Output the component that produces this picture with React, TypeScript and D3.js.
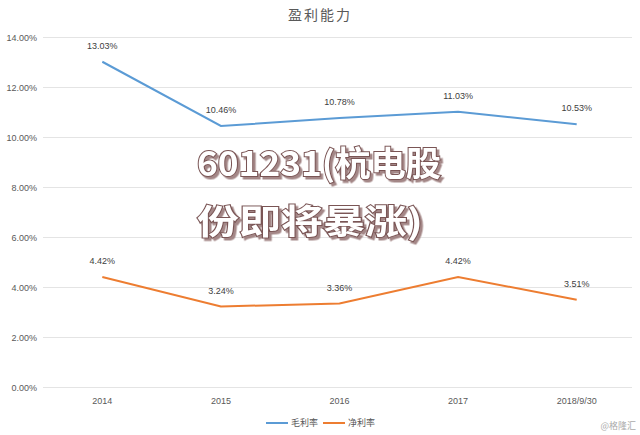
import React, { useEffect, useRef } from 'react'
import * as d3 from 'd3'

const categories = ['2014', '2015', '2016', '2017', '2018/9/30']
const grossMargin = [13.03, 10.46, 10.78, 11.03, 10.53]
const netMargin = [4.42, 3.24, 3.36, 4.42, 3.51]
const yTicks = [0, 2, 4, 6, 8, 10, 12, 14]
const seriesNames = ['毛利率', '净利率']
const seriesColors = ['#5b9bd5', '#ed7d31']
const overlayLines = ['601231(杭电股', '份即将暴涨)']

const width = 640
const height = 435
const margin = { top: 37.5, right: 4, bottom: 47.5, left: 43 }

export default function App() {
  const ref = useRef<SVGSVGElement>(null)

  useEffect(() => {
    const svg = d3.select(ref.current)
    svg.selectAll('*').remove()

    const x = d3.scaleBand().domain(categories)
      .range([margin.left, width - margin.right]).padding(0)
    const y = d3.scaleLinear().domain([0, 14])
      .range([height - margin.bottom, margin.top])

    // 阴影滤镜
    const defs = svg.append('defs')
    const f = defs.append('filter').attr('id', 'shadow')
      .attr('x', '-10%').attr('y', '-20%').attr('width', '130%').attr('height', '150%')
    f.append('feDropShadow')
      .attr('dx', 2.5).attr('dy', 2.5).attr('stdDeviation', 0.6)
      .attr('flood-color', '#9a7a7a').attr('flood-opacity', 0.9)

    svg.append('rect').attr('width', width).attr('height', height).attr('fill', '#fff')

    // 标题
    svg.append('text')
      .attr('x', 320).attr('y', 20)
      .attr('text-anchor', 'middle')
      .attr('font-family', '"Noto Sans CJK SC", sans-serif')
      .attr('font-size', 14)
      .attr('fill', '#595959')
      .attr('letter-spacing', 2)
      .text('盈利能力')

    // 网格线和y轴刻度
    const grid = svg.append('g')
    yTicks.forEach(t => {
      grid.append('line')
        .attr('x1', margin.left).attr('x2', width - 8)
        .attr('y1', y(t)).attr('y2', y(t))
        .attr('stroke', '#e4e4e4').attr('stroke-width', 1)
      grid.append('text')
        .attr('x', 37).attr('y', y(t)).attr('dy', '0.35em')
        .attr('text-anchor', 'end')
        .attr('font-family', 'Arial, "Liberation Sans", sans-serif')
        .attr('font-size', 9)
        .attr('fill', '#595959')
        .text(t.toFixed(2) + '%')
    })

    // x轴标签
    categories.forEach(c => {
      svg.append('text')
        .attr('x', x(c)! + x.bandwidth() / 2).attr('y', 404)
        .attr('text-anchor', 'middle')
        .attr('font-family', 'Arial, "Liberation Sans", sans-serif')
        .attr('font-size', 9)
        .attr('fill', '#595959')
        .text(c)
    })

    const cx = (i: number) => x(categories[i])! + x.bandwidth() / 2
    const line = d3.line<number>().x((d, i) => cx(i)).y(d => y(d))

    ;[grossMargin, netMargin].forEach((s, k) => {
      svg.append('path')
        .datum(s)
        .attr('fill', 'none')
        .attr('stroke', seriesColors[k])
        .attr('stroke-width', 2)
        .attr('d', line)
      s.forEach((v, i) => {
        svg.append('text')
          .attr('x', cx(i)).attr('y', y(v) - 13)
          .attr('text-anchor', 'middle')
          .attr('font-family', 'Arial, "Liberation Sans", sans-serif')
          .attr('font-size', 9)
          .attr('fill', '#404040')
          .text(v.toFixed(2) + '%')
      })
    })

    // 图例
    const lg = svg.append('g')
    seriesNames.forEach((n, k) => {
      const lx = 266 + k * 57
      lg.append('line')
        .attr('x1', lx).attr('x2', lx + 22)
        .attr('y1', 423).attr('y2', 423)
        .attr('stroke', seriesColors[k]).attr('stroke-width', 2)
      lg.append('text')
        .attr('x', lx + 25).attr('y', 423).attr('dy', '0.35em')
        .attr('font-family', '"Noto Sans CJK SC", sans-serif')
        .attr('font-size', 9)
        .attr('fill', '#595959')
        .text(n)
    })

    // 水印
    svg.append('text')
      .attr('x', 636).attr('y', 429)
      .attr('text-anchor', 'end')
      .attr('font-family', '"Noto Sans CJK SC", sans-serif')
      .attr('font-size', 9)
      .attr('fill', '#aaa')
      .text('@格隆汇')

    // 覆盖文字
    overlayLines.forEach((t, i) => {
      svg.append('text')
        .attr('x', 197).attr('y', 176 + i * 58)
        .attr('font-family', '"Noto Sans CJK SC", sans-serif')
        .attr('font-weight', 700)
        .attr('font-size', 34)
        .attr('fill', '#fff')
        .attr('stroke', '#7a5555').attr('stroke-width', 2)
        .attr('paint-order', 'stroke')
        .attr('filter', 'url(#shadow)')
        .attr('textLength', i === 0 ? 244 : 226)
        .attr('lengthAdjust', 'spacingAndGlyphs')
        .text(t)
    })
  }, [])

  return (
    <svg ref={ref} width={width} height={height}
      style={{ position: 'absolute', left: 0, top: 0, display: 'block' }} />
  )
}
